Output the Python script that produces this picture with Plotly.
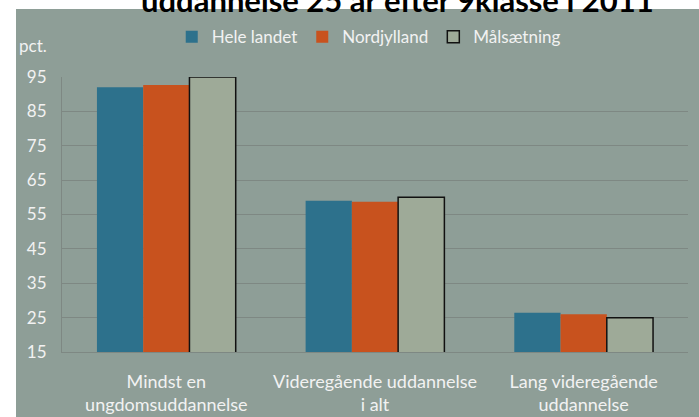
import plotly.graph_objects as go

categories = ["Mindst en<br>ungdomsuddannelse", "Videregående uddannelse<br>i alt", "Lang videregående<br>uddannelse"]
hele_landet = [92.0, 59.0, 26.4]
nordjylland = [92.7, 58.7, 26.0]
maalsaetning = [95.0, 60.0, 25.0]
y_ticks = [15, 25, 35, 45, 55, 65, 75, 85, 95]

FONT = "Lato, 'Open Sans', 'Liberation Sans', sans-serif"
BG = "#8e9e97"
GRID = "#7e8883"
TXT = "#f2f2f2"

fig = go.Figure()
fig.add_trace(go.Bar(name="Hele landet", x=categories, y=hele_landet,
                     marker=dict(color="#2d718c", line=dict(width=0))))
fig.add_trace(go.Bar(name="Nordjylland", x=categories, y=nordjylland,
                     marker=dict(color="#c8521e", line=dict(width=0))))
fig.add_trace(go.Bar(name="Målsætning", x=categories, y=maalsaetning,
                     marker=dict(color="#9eaa98", line=dict(color="#111111", width=1.5))))

fig.update_layout(
    width=699, height=417,
    margin=dict(l=62, r=11, t=77, b=65),
    paper_bgcolor=BG, plot_bgcolor=BG,
    barmode="group", bargap=0.335, bargroupgap=0,
    font=dict(family=FONT, size=17, color=TXT),
    showlegend=True,
    legend=dict(orientation="h", x=0.49, xanchor="center", y=1.21, yanchor="top",
                font=dict(family=FONT, size=17, color=TXT), bgcolor="rgba(0,0,0,0)",
                traceorder="normal"),
    xaxis=dict(showgrid=False, showline=True, linecolor=GRID, linewidth=1,
               ticks="", tickfont=dict(family=FONT, size=18, color=TXT),
               ticklabelstandoff=13, automargin=False),
    yaxis=dict(range=[15, 95], tickvals=y_ticks, showgrid=True, gridcolor=GRID, gridwidth=1,
               showline=True, linecolor=GRID, linewidth=1, zeroline=False,
               ticks="", tickfont=dict(family=FONT, size=17, color=TXT),
               ticklabelstandoff=11, automargin=False),
    shapes=[
        dict(type="rect", xref="paper", yref="paper", x0=-0.2, x1=1.1,
             y0=1 + (77 - 9) / 275, y1=1.5, fillcolor="white", line=dict(width=0), layer="above"),
        dict(type="rect", xref="paper", yref="paper", x0=-0.2, x1=-(62 - 16) / 626,
             y0=-0.5, y1=1.5, fillcolor="white", line=dict(width=0), layer="above"),
    ],
    annotations=[
        dict(text="pct.", xref="paper", yref="paper", x=-(62 - 17) / 626, xanchor="left",
             y=(352 - 46) / 275, yanchor="middle", showarrow=False,
             font=dict(family=FONT, size=17, color=TXT)),
        dict(text="<b>uddannelse 25 år efter 9klasse i 2011</b>", xref="paper", yref="paper",
             x=(397 - 62) / 626, xanchor="center", y=(352 - 21) / 275, yanchor="bottom",
             showarrow=False, font=dict(family=FONT, size=31, color="black")),
    ],
)

fig.write_html("out.html", config={"displayModeBar": False})
with open("out.html", encoding="utf-8") as f:
    html = f.read()
html = html.replace("<head>", "<head><style>html,body{margin:0;padding:0;overflow:hidden;}</style>", 1)
with open("out.html", "w", encoding="utf-8") as f:
    f.write(html)
